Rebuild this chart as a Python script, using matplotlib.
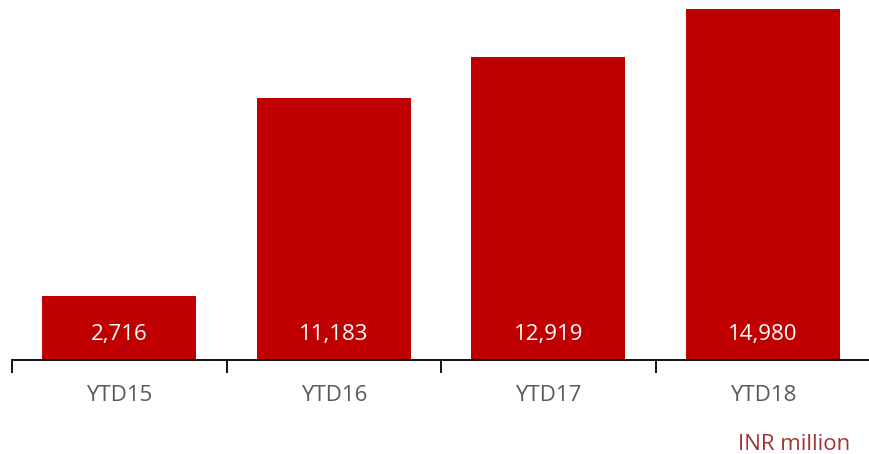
import matplotlib.pyplot as plt

categories = ["YTD15", "YTD16", "YTD17", "YTD18"]
values = [2716, 11183, 12919, 14980]
value_labels = ["2,716", "11,183", "12,919", "14,980"]

plt.rcParams['font.family'] = ['Open Sans', 'DejaVu Sans']

fig = plt.figure(figsize=(8.69, 4.54), dpi=100)
# axes: x from 12 to 870 px, y from 360 px (baseline) up to 9 px (tallest bar)
ax = fig.add_axes([12 / 869, (454 - 360) / 454, 858 / 869, 351 / 454])

x = range(len(categories))
ax.bar(x, values, width=0.72, color='#C00000', zorder=2)

for i, lab in enumerate(value_labels):
    ax.text(i, 1100, lab, ha='center', va='center', color='white', fontsize=16)

ax.set_xlim(-0.5, len(categories) - 0.5)
ax.set_ylim(0, max(values))

for s in ['top', 'right', 'left']:
    ax.spines[s].set_visible(False)
ax.spines['bottom'].set_linewidth(1.3)
ax.spines['bottom'].set_color('black')

ax.set_yticks([])
ax.set_xticks([-0.5, 0.5, 1.5, 2.5, 3.5])
ax.set_xticklabels([])
ax.tick_params(axis='x', direction='out', length=9, width=1.3, color='black')
ax.set_xticks(list(x), minor=True)
ax.set_xticklabels(categories, minor=True)
ax.tick_params(axis='x', which='minor', length=0, pad=18, labelsize=16, labelcolor='#595959')

fig.text(850 / 869, 1 - 444 / 454, "INR million", ha='right', va='center', fontsize=16, color='#A33433')

fig.savefig("out.png", dpi=100)
